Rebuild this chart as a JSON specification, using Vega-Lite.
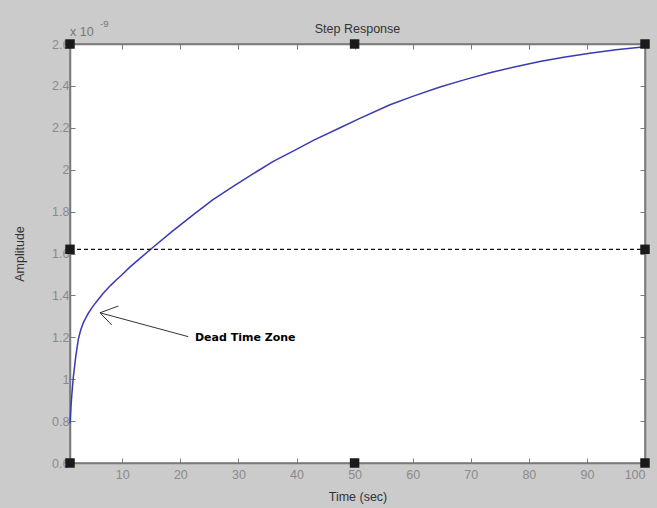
{
  "$schema": "https://vega.github.io/schema/vega-lite/v6.json",
  "width": 575,
  "height": 419,
  "autosize": "none",
  "padding": {"left": 70, "top": 44, "right": 12, "bottom": 45},
  "background": "#cbcbcb",
  "config": {
    "view": {"fill": "white", "stroke": "#7a7a7a", "strokeWidth": 1.5},
    "font": "Liberation Sans",
    "axis": {"domainColor": "#7a7a7a", "domainWidth": 1.5, "tickColor": "#7a7a7a", "grid": false, "labelColor": "#8a8a8a", "labelFont": "Liberation Sans", "labelFontSize": 12.5, "titleFont": "Liberation Sans", "titleFontSize": 12.5, "titleFontWeight": "normal", "titleColor": "#333333"}
  },
  "title": {"text": "Step Response", "fontSize": 12.5, "fontWeight": "normal", "color": "#333333", "font": "Liberation Sans", "offset": -17},
  "datasets": {
    "curve": [
      {"t": 1.0, "amp": 0.79}, {"t": 1.15, "amp": 0.86}, {"t": 1.3, "amp": 0.92}, {"t": 1.57, "amp": 1.01},
      {"t": 2.0, "amp": 1.11}, {"t": 2.43, "amp": 1.19}, {"t": 2.84, "amp": 1.235}, {"t": 3.3, "amp": 1.27},
      {"t": 4.15, "amp": 1.315}, {"t": 5.0, "amp": 1.35}, {"t": 6.0, "amp": 1.385}, {"t": 6.73, "amp": 1.41},
      {"t": 8.0, "amp": 1.448}, {"t": 9.0, "amp": 1.475}, {"t": 10.0, "amp": 1.5}, {"t": 11.3, "amp": 1.535},
      {"t": 13.4, "amp": 1.585}, {"t": 15.3, "amp": 1.63}, {"t": 18.7, "amp": 1.708}, {"t": 22.2, "amp": 1.784},
      {"t": 25.5, "amp": 1.855}, {"t": 29.1, "amp": 1.92}, {"t": 32.5, "amp": 1.98}, {"t": 36, "amp": 2.04},
      {"t": 39.5, "amp": 2.09}, {"t": 42.9, "amp": 2.14}, {"t": 47.5, "amp": 2.2}, {"t": 50.9, "amp": 2.245},
      {"t": 56.1, "amp": 2.31}, {"t": 60, "amp": 2.35}, {"t": 64.7, "amp": 2.395}, {"t": 69, "amp": 2.43},
      {"t": 73.3, "amp": 2.463}, {"t": 77.5, "amp": 2.49}, {"t": 81.9, "amp": 2.516}, {"t": 86, "amp": 2.537},
      {"t": 90.5, "amp": 2.556}, {"t": 95, "amp": 2.572}, {"t": 100, "amp": 2.587}
    ],
    "ref": [{"t": 1, "amp": 1.62}, {"t": 100, "amp": 1.62}],
    "markers": [
      {"t": 1, "amp": 2.6}, {"t": 50, "amp": 2.6}, {"t": 100, "amp": 2.6},
      {"t": 1, "amp": 1.62}, {"t": 100, "amp": 1.62},
      {"t": 1, "amp": 0.6}, {"t": 50, "amp": 0.6}, {"t": 100, "amp": 0.6}
    ],
    "arrow": [
      {"t": 21.37, "amp": 1.203, "t2": 6.165, "amp2": 1.317},
      {"t": 6.165, "amp": 1.317, "t2": 9.316, "amp2": 1.349},
      {"t": 6.165, "amp": 1.317, "t2": 8.18, "amp2": 1.259}
    ],
    "label": [{"t": 22.52, "amp": 1.197, "text": "Dead Time Zone"}]
  },
  "resolve": {"axis": {"x": "independent", "y": "independent"}},
  "layer": [
    {
      "data": {"name": "curve"},
      "mark": {"type": "line", "color": "#3b3bb0", "strokeWidth": 1.5},
      "encoding": {
        "x": {"field": "t", "type": "quantitative", "scale": {"domain": [1, 100], "nice": false, "zero": false},
          "axis": {"title": "Time (sec)", "values": [10, 20, 30, 40, 50, 60, 70, 80, 90, 100], "tickSize": -5, "labelPadding": 10, "titlePadding": 10}},
        "y": {"field": "amp", "type": "quantitative", "scale": {"domain": [0.6, 2.6], "nice": false, "zero": false},
          "axis": {"title": "Amplitude", "values": [0.6, 0.8, 1, 1.2, 1.4, 1.6, 1.8, 2, 2.2, 2.4, 2.6], "labelExpr": "format(datum.value, '~g')", "tickSize": -5, "labelPadding": 6, "titlePadding": 25}}
      }
    },
    {
      "data": {"name": "ref"},
      "mark": {"type": "line", "color": "#111111", "strokeWidth": 1.3, "strokeDash": [4, 3]},
      "encoding": {
        "x": {"field": "t", "type": "quantitative", "scale": {"domain": [1, 100], "nice": false, "zero": false},
          "axis": {"orient": "top", "title": null, "labels": false, "values": [10, 20, 30, 40, 50, 60, 70, 80, 90, 100], "tickSize": -5}},
        "y": {"field": "amp", "type": "quantitative", "scale": {"domain": [0.6, 2.6], "nice": false, "zero": false},
          "axis": {"orient": "right", "title": null, "labels": false, "values": [0.6, 0.8, 1, 1.2, 1.4, 1.6, 1.8, 2, 2.2, 2.4, 2.6], "tickSize": -5}}
      }
    },
    {
      "data": {"name": "arrow"},
      "mark": {"type": "rule", "color": "#333333", "strokeWidth": 1},
      "encoding": {
        "x": {"field": "t", "type": "quantitative", "scale": {"domain": [1, 100], "nice": false, "zero": false}, "axis": null},
        "y": {"field": "amp", "type": "quantitative", "scale": {"domain": [0.6, 2.6], "nice": false, "zero": false}, "axis": null},
        "x2": {"field": "t2"},
        "y2": {"field": "amp2"}
      }
    },
    {
      "data": {"name": "label"},
      "mark": {"type": "text", "align": "left", "baseline": "middle", "font": "DejaVu Sans", "fontWeight": "bold", "fontSize": 11, "color": "#000000"},
      "encoding": {
        "x": {"field": "t", "type": "quantitative", "scale": {"domain": [1, 100], "nice": false, "zero": false}, "axis": null},
        "y": {"field": "amp", "type": "quantitative", "scale": {"domain": [0.6, 2.6], "nice": false, "zero": false}, "axis": null},
        "text": {"field": "text"}
      }
    },
    {
      "data": {"values": [{"t": 1, "amp": 2.6, "text": "x 10"}]},
      "mark": {"type": "text", "align": "left", "baseline": "middle", "fontSize": 12.5, "color": "#777777", "dy": -12.5, "clip": false},
      "encoding": {
        "x": {"field": "t", "type": "quantitative", "scale": {"domain": [1, 100], "nice": false, "zero": false}, "axis": null},
        "y": {"field": "amp", "type": "quantitative", "scale": {"domain": [0.6, 2.6], "nice": false, "zero": false}, "axis": null},
        "text": {"field": "text"}
      }
    },
    {
      "data": {"values": [{"t": 1, "amp": 2.6, "text": "-9"}]},
      "mark": {"type": "text", "align": "left", "baseline": "middle", "fontSize": 9.5, "color": "#777777", "dx": 30, "dy": -20.5},
      "encoding": {
        "x": {"field": "t", "type": "quantitative", "scale": {"domain": [1, 100], "nice": false, "zero": false}, "axis": null},
        "y": {"field": "amp", "type": "quantitative", "scale": {"domain": [0.6, 2.6], "nice": false, "zero": false}, "axis": null},
        "text": {"field": "text"}
      }
    },
    {
      "data": {"name": "markers"},
      "mark": {"type": "point", "shape": "square", "filled": true, "color": "#1a1a1a", "size": 90, "opacity": 1},
      "encoding": {
        "x": {"field": "t", "type": "quantitative", "scale": {"domain": [1, 100], "nice": false, "zero": false}, "axis": null},
        "y": {"field": "amp", "type": "quantitative", "scale": {"domain": [0.6, 2.6], "nice": false, "zero": false}, "axis": null}
      }
    }
  ]
}
